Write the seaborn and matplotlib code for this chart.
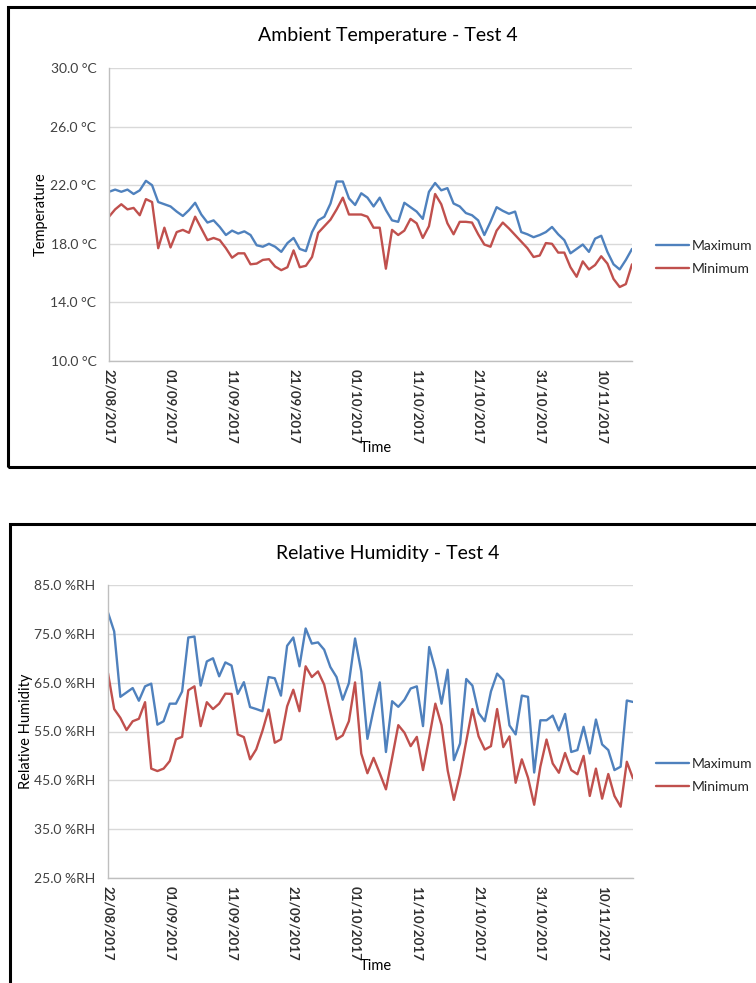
import numpy as np
import pandas as pd
import matplotlib
matplotlib.use("Agg")
import matplotlib.pyplot as plt
import matplotlib.dates as mdates
from matplotlib.patches import Rectangle
from matplotlib.lines import Line2D
import seaborn as sns

sns.set_theme(style="white")
plt.rcParams["font.family"] = ["Lato", "DejaVu Sans"]

# Daily readings, 22/08/2017 to 15/11/2017
dates = pd.date_range("2017-08-22", "2017-11-15", freq="D")

temp_max = [21.55, 21.7, 21.55, 21.7, 21.4, 21.65, 22.3, 22.0, 20.85, 20.7,
            20.55, 20.2, 19.9, 20.3, 20.8, 20.0, 19.45, 19.6, 19.15, 18.6,
            18.9, 18.7, 18.85, 18.6, 17.9, 17.8, 18.0, 17.8, 17.45, 18.05,
            18.4, 17.65, 17.5, 18.8, 19.6, 19.85, 20.75, 22.25, 22.25, 21.1,
            20.65, 21.45, 21.15, 20.55, 21.15, 20.3, 19.6, 19.5, 20.8, 20.5,
            20.2, 19.7, 21.55, 22.15, 21.65, 21.8, 20.75, 20.55, 20.1, 19.95,
            19.6, 18.6, 19.5, 20.5, 20.25, 20.05, 20.2, 18.8, 18.65, 18.45,
            18.6, 18.8, 19.15, 18.65, 18.25, 17.35, 17.65, 17.95, 17.45, 18.35,
            18.55, 17.45, 16.6, 16.25, 16.9, 17.65]
temp_min = [19.85, 20.35, 20.7, 20.35, 20.45, 19.95, 21.05, 20.85, 17.7, 19.1,
            17.75, 18.8, 18.95, 18.75, 19.85, 19.05, 18.25, 18.4, 18.25, 17.7,
            17.05, 17.35, 17.35, 16.6, 16.65, 16.9, 16.95, 16.45, 16.2, 16.4,
            17.55, 16.4, 16.5, 17.1, 18.75, 19.2, 19.65, 20.35, 21.15, 20.0,
            20.0, 20.0, 19.85, 19.1, 19.1, 16.3, 18.95, 18.6, 18.9, 19.7,
            19.4, 18.4, 19.2, 21.4, 20.7, 19.4, 18.65, 19.5, 19.5, 19.45,
            18.65, 17.95, 17.8, 18.9, 19.45, 19.05, 18.6, 18.15, 17.7, 17.1,
            17.2, 18.05, 18.0, 17.4, 17.4, 16.4, 15.75, 16.8, 16.25, 16.55,
            17.15, 16.65, 15.6, 15.05, 15.25, 16.6]

hum_max = [79.35, 75.5, 62.1, 63.0, 63.9, 61.3, 64.25, 64.8, 56.4, 57.1,
           60.7, 60.7, 63.2, 74.25, 74.45, 64.4, 69.35, 70.0, 66.3, 69.15,
           68.5, 62.7, 65.1, 60.0, 59.6, 59.15, 66.15, 65.9, 62.35, 72.55,
           74.25, 68.35, 76.1, 73.0, 73.25, 71.75, 68.2, 66.15, 61.5, 64.9,
           74.05, 67.3, 53.5, 59.5, 65.05, 50.8, 61.2, 60.05, 61.5, 63.8,
           64.25, 56.1, 72.3, 67.65, 60.7, 67.65, 49.15, 52.55, 65.75, 64.4,
           58.8, 57.1, 63.2, 66.85, 65.5, 56.25, 54.4, 62.35, 62.1, 46.6,
           57.3, 57.3, 58.25, 55.2, 58.6, 50.8, 51.2, 55.95, 50.5, 57.45,
           52.35, 51.2, 47.1, 47.8, 61.35, 61.05]
hum_min = [66.95, 59.6, 57.8, 55.3, 57.1, 57.6, 61.0, 47.4, 46.9, 47.4,
           48.95, 53.4, 53.9, 63.45, 64.25, 56.1, 61.0, 59.6, 60.7, 62.75,
           62.7, 54.4, 53.85, 49.3, 51.35, 55.1, 59.5, 52.7, 53.4, 60.15,
           63.55, 59.15, 68.35, 66.15, 67.3, 64.6, 58.95, 53.4, 54.2, 57.1,
           65.05, 50.5, 46.45, 49.6, 46.45, 43.15, 49.6, 56.3, 54.75, 52.0,
           53.9, 47.1, 53.7, 60.7, 56.3, 47.0, 41.0, 46.2, 53.0, 59.6,
           54.0, 51.3, 52.0, 59.6, 51.8, 54.0, 44.5, 49.3, 45.55, 40.0,
           47.8, 53.35, 48.45, 46.55, 50.6, 47.1, 46.25, 50.0, 41.8, 47.4,
           41.25, 46.3, 41.8, 39.6, 48.8, 45.4]

series_names = ["Maximum", "Minimum"]
colors = {"Maximum": "#4F81BD", "Minimum": "#C0504D"}
tick_dates = pd.date_range("2017-08-22", periods=9, freq="10D")

W, H = 756, 983
fig = plt.figure(figsize=(W / 100, H / 100), dpi=100)


def frac_box(left, top, right, bottom):
    return [left / W, 1 - bottom / H, (right - left) / W, (bottom - top) / H]


def long_frame(vmax, vmin):
    return pd.DataFrame({
        "Date": list(dates) * 2,
        "Value": list(vmax) + list(vmin),
        "Series": [series_names[0]] * len(dates) + [series_names[1]] * len(dates),
    })


def panel(box, vmax, vmin, title, title_y, ylabel, ylab_x, yticks, fmt,
          xlab_y, leg_y):
    ax = fig.add_axes(frac_box(*box))
    sns.lineplot(data=long_frame(vmax, vmin), x="Date", y="Value", hue="Series",
                 palette=colors, linewidth=1.7, ax=ax, legend=False)
    ax.set_xlim(dates[0], dates[-1])
    ax.set_ylim(yticks[0], yticks[-1])
    ax.set_yticks(yticks)
    ax.set_yticklabels([fmt.format(v) for v in yticks], fontsize=10, color="#404040")
    ax.yaxis.grid(True, color="#D9D9D9", linewidth=1)
    ax.xaxis.grid(False)
    ax.set_xticks(tick_dates)
    ax.xaxis.set_major_formatter(mdates.DateFormatter("%d/%m/%Y"))
    for lab in ax.get_xticklabels():
        lab.set_rotation(270)
        lab.set_fontsize(9.6)
        lab.set_fontweight("bold")
        lab.set_color("#303030")
        lab.set_ha("center")
        lab.set_va("top")
    ax.tick_params(axis="both", length=0)
    ax.tick_params(axis="y", pad=9)
    ax.tick_params(axis="x", pad=6)
    for side in ("top", "right"):
        ax.spines[side].set_visible(False)
    for side in ("left", "bottom"):
        ax.spines[side].set_color("#BFBFBF")
        ax.spines[side].set_linewidth(1)
    ax.set_ylabel(ylabel, fontsize=10.5, color="#000000")
    ax.yaxis.set_label_coords(ylab_x, 0.5)
    ax.set_xlabel("Time", fontsize=10.5, color="#000000")
    ax.xaxis.set_label_coords(0.51, xlab_y)
    fig.text(388 / W, 1 - title_y / H, title, fontsize=14, ha="center",
             va="center", color="#000000")
    handles = [Line2D([], [], color=colors[n], linewidth=1.7) for n in series_names]
    fig.legend(handles, series_names, loc="center left",
               bbox_to_anchor=(656 / W, 1 - leg_y / H), frameon=False,
               fontsize=10, handlelength=2.4, handletextpad=0.2,
               labelspacing=0.75, borderpad=0, borderaxespad=0)
    return ax


panel((109, 68, 632, 361), temp_max, temp_min, "Ambient Temperature - Test 4", 36,
      "Temperature", -0.118, [10, 14, 18, 22, 26, 30], "{:.1f} °C", -0.272, 257.5)
panel((108, 585, 633, 878), hum_max, hum_min, "Relative Humidity - Test 4", 554,
      "Relative Humidity", -0.143, [25, 35, 45, 55, 65, 75, 85], "{:.1f} %RH",
      -0.278, 775.5)

# chart frames
for (l, t, r, b) in [(8, 7, 770, 467), (10, 524, 770, 1000)]:
    fig.patches.append(Rectangle((l / W, 1 - b / H), (r - l) / W, (b - t) / H,
                                 transform=fig.transFigure, fill=False,
                                 edgecolor="#000000", linewidth=2.2,
                                 clip_on=False))

fig.savefig("out.png", dpi=100, facecolor="white")
